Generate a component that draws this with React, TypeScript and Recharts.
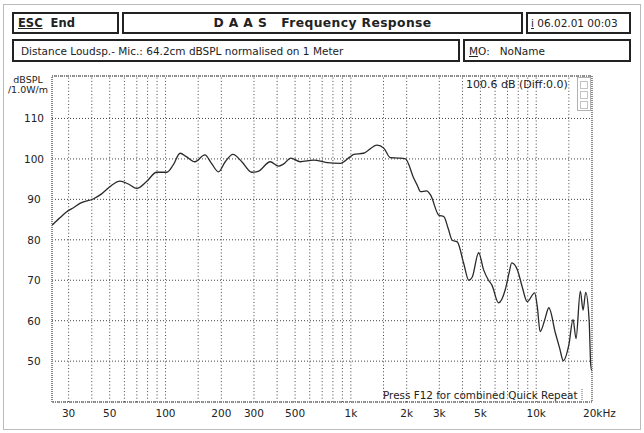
import React from "react";
import { CartesianGrid, Line, LineChart, ReferenceLine, XAxis, YAxis } from "recharts";

// Frequency response (Hz / dBSPL)
const FREQ = [
  24.4, 27, 29.2, 32, 34.5, 40.7, 45, 50, 56.7, 63, 70, 79, 89.6, 101.5, 110,
  119.8, 130, 144, 163, 177, 193, 210, 231, 258, 292, 318, 367, 407, 432, 475,
  533, 629, 744, 876, 990, 1037, 1169, 1385, 1508, 1634, 1809, 1970, 2185,
  2280, 2377, 2560, 2690, 2980, 3178, 3350, 3520, 3750, 4060, 4325, 4520, 4890,
  5210, 5500, 5770, 6260, 6800, 7130, 7380, 7930, 8400, 8940, 9810, 10140,
  10500, 11100, 11700, 12700, 13400, 14000, 15000, 15800, 16400, 17300, 17900,
  18500, 19300, 19700, 20000,
];
const SPL = [
  83.6, 85.5, 86.9, 88.0, 89.0, 90.1, 91.3, 93.1, 94.5, 93.8, 92.7, 94.4, 96.7,
  96.7, 98.5, 101.4, 100.5, 99.3, 101.0, 98.9, 96.8, 99.3, 101.1, 99.3, 96.7,
  97.0, 99.3, 98.2, 98.7, 100.2, 99.3, 99.7, 99.1, 98.9, 100.5, 101.1, 101.4,
  103.4, 102.6, 100.3, 100.2, 100.0, 95.2, 93.5, 91.9, 92.1, 91.1, 86.1, 85.7,
  82.8, 79.9, 79.5, 74.2, 70.0, 70.8, 76.8, 72.5, 70.2, 68.8, 64.4, 67.6, 71.7,
  74.3, 72.5, 68.4, 64.7, 66.9, 63.4, 57.3, 60.1, 63.2, 56.9, 53.1, 50.1, 54.0,
  60.3, 55.6, 67.3, 62.6, 67.0, 60.1, 49.0, 47.5,
];

const X_LABELS = [30, 50, 100, 200, 300, 500, 1000, 2000, 3000, 5000, 10000, 20000];
const X_GRID = [
  30, 40, 50, 60, 70, 80, 90, 100, 150, 200, 300, 400, 500, 600, 700, 800, 900,
  1000, 1500, 2000, 3000, 4000, 5000, 6000, 7000, 8000, 9000, 10000, 15000,
];
const Y_TICKS = [50, 60, 70, 80, 90, 100, 110];

const data = FREQ.map((f, i) => ({ f, spl: SPL[i] }));

const FONT = '"DejaVu Sans", sans-serif';
const INK = "#222";

const fmtHz = (v: number) => (v >= 1000 ? `${v / 1000}k` : `${v}`);

const XTick = (props: any) => {
  const { x, y, payload } = props;
  const v = payload.value as number;
  if (v === 20000) {
    return (
      <text x={x - 9} y={y + 14.5} fontSize={10.5} fontFamily={FONT} fill={INK}>
        20kHz
      </text>
    );
  }
  return (
    <text x={x} y={y + 14.5} textAnchor="middle" fontSize={10.5} fontFamily={FONT} fill={INK}>
      {fmtHz(v)}
    </text>
  );
};

const YTick = (props: any) => {
  const { x, y, payload } = props;
  return (
    <text x={x - 18} y={y + 4} textAnchor="middle" fontSize={10.5} fontFamily={FONT} fill={INK}>
      {payload.value}
    </text>
  );
};

const box = (left: number, top: number, width: number, height: number): React.CSSProperties => ({
  position: "absolute",
  left,
  top,
  width,
  height,
  boxSizing: "border-box",
  border: "2px solid #222",
  background: "#fff",
  display: "flex",
  alignItems: "center",
  fontFamily: FONT,
  fontSize: 10.5,
  color: INK,
  whiteSpace: "pre",
});

export default function App() {
  return (
    <div
      style={{
        position: "absolute",
        left: 0,
        top: 0,
        width: 644,
        height: 433,
        background: "#fff",
        overflow: "hidden",
      }}
    >
      <LineChart
        width={644}
        height={433}
        data={data}
        margin={{ top: 76, right: 52, bottom: 1, left: 0 }}
      >
        <CartesianGrid vertical={false} stroke="#444" strokeDasharray="1 2" />
        <XAxis
          dataKey="f"
          type="number"
          scale="log"
          domain={[24.4, 20000]}
          ticks={X_LABELS}
          allowDataOverflow
          height={30}
          axisLine={false}
          tickLine={false}
          tickSize={0}
          tickMargin={0}
          interval={0}
          tick={<XTick />}
        />
        <YAxis
          type="number"
          domain={[39.9, 120.5]}
          ticks={Y_TICKS}
          allowDataOverflow
          width={52}
          axisLine={false}
          tickLine={false}
          tickSize={0}
          tickMargin={0}
          interval={0}
          tick={<YTick />}
        />
        {X_GRID.map((f) => (
          <ReferenceLine key={f} x={f} stroke="#444" strokeDasharray="1 2.3" />
        ))}
        <Line
          dataKey="spl"
          type="monotone"
          stroke="#2a2a2a"
          strokeWidth={1.3}
          dot={false}
          isAnimationActive={false}
        />
      </LineChart>

      {/* frames drawn over the chart */}
      <svg
        width={644}
        height={433}
        style={{ position: "absolute", left: 0, top: 0, pointerEvents: "none" }}
      >
        <rect x={3.5} y={4.5} width={637} height={425} fill="none" stroke="#777" strokeDasharray="1 1" />
        <rect x={52} y={76} width={540} height={326} fill="none" stroke="#888" strokeWidth={2} strokeDasharray="1 1" />
        <rect x={577.5} y={77.5} width={13} height={33} fill="none" stroke="#666" strokeDasharray="1 1" />
        <rect x={580.5} y={81.5} width={7} height={7} fill="none" stroke="#888" strokeDasharray="1 1" />
        <rect x={580.5} y={91.5} width={7} height={7} fill="none" stroke="#888" strokeDasharray="1 1" />
        <rect x={580.5} y={101.5} width={7} height={7} fill="none" stroke="#888" strokeDasharray="1 1" />
        <line x1={582} y1={389} x2={582} y2={401} stroke="#666" strokeDasharray="1 1" />
      </svg>

      {/* header */}
      <div style={{ ...box(12, 12, 107, 22), fontWeight: "bold", fontSize: 11.5, paddingLeft: 4 }}>
        <span style={{ textDecoration: "underline" }}>ESC</span>  End
      </div>
      <div style={{ ...box(122, 12, 401, 22), justifyContent: "center", fontWeight: "bold", fontSize: 12.3, letterSpacing: 0.4 }}>
        D A A S   Frequency Response
      </div>
      <div style={{ ...box(526, 12, 105, 22), paddingLeft: 3 }}>
        <span style={{ textDecoration: "underline" }}>i</span> 06.02.01 00:03
      </div>
      <div style={{ ...box(12, 39, 448, 23), paddingLeft: 7 }}>
        Distance Loudsp.- Mic.: 64.2cm dBSPL normalised on 1 Meter
      </div>
      <div style={{ ...box(463, 39, 168, 23), paddingLeft: 4 }}>
        <span style={{ textDecoration: "underline" }}>M</span>O:   NoName
      </div>

      {/* texts inside the plot */}
      <div style={{ position: "absolute", left: 3, top: 75, width: 50, textAlign: "center", fontFamily: FONT, fontSize: 9.5, lineHeight: "10px", color: INK }}>
        dBSPL
        <br />
        /1.0W/m
      </div>
      <div style={{ position: "absolute", left: 466, top: 78, fontFamily: FONT, fontSize: 11, color: INK, whiteSpace: "pre" }}>
        100.6 dB (Diff:0.0)
      </div>
      <div style={{ position: "absolute", left: 383, top: 389, fontFamily: FONT, fontSize: 10.4, color: INK, whiteSpace: "pre", lineHeight: "12px" }}>
        Press F12 for combined Quick Repeat
      </div>
    </div>
  );
}
